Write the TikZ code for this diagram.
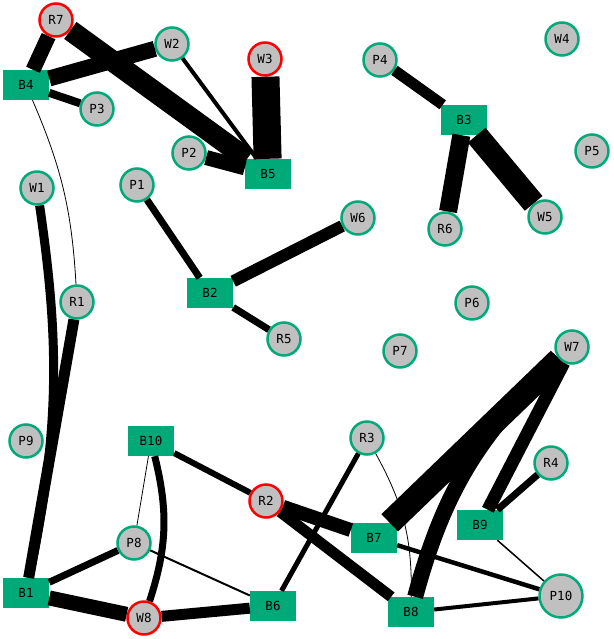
\documentclass[tikz,border=0pt]{standalone}
\usepackage{fontspec}
\setmonofont{DejaVu Sans Mono}
\definecolor{nodegreen}{RGB}{0,170,120}
\definecolor{nodegray}{RGB}{192,192,192}
\begin{document}
\begin{tikzpicture}[x=1pt, y=-1pt,
    every node/.style={font=\ttfamily\fontsize{12.5}{12.5}\selectfont, inner sep=0pt},
    pnode/.style={circle, draw=nodegreen, fill=nodegray, line width=2.5pt, minimum size=33pt},
    rnode/.style={pnode, draw=red},
    bnode/.style={rectangle, fill=nodegreen, minimum width=46pt, minimum height=30pt}]
    \useasboundingbox (0,0) rectangle (613,639);
    % Boxes
    \node[bnode] (B1) at (26,593) {B1};
    \node[bnode] (B2) at (210,293) {B2};
    \node[bnode] (B3) at (464,120) {B3};
    \node[bnode] (B4) at (26,85) {B4};
    \node[bnode] (B5) at (268,174) {B5};
    \node[bnode] (B6) at (273,606) {B6};
    \node[bnode] (B7) at (374,538) {B7};
    \node[bnode] (B8) at (411,612) {B8};
    \node[bnode] (B9) at (480,525) {B9};
    \node[bnode] (B10) at (151,441) {B10};
    
    % Circles
    \node[pnode] (P1) at (137,185) {P1};
    \node[pnode] (P2) at (189,153) {P2};
    \node[pnode] (P3) at (97,109) {P3};
    \node[pnode] (P4) at (380,60) {P4};
    \node[pnode] (P5) at (592,151) {P5};
    \node[pnode] (P6) at (472,303) {P6};
    \node[pnode] (P7) at (400,351) {P7};
    \node[pnode] (P8) at (134,543) {P8};
    \node[pnode] (P9) at (26,441) {P9};
    \node[pnode, minimum size=43pt] (P10) at (561,596) {P10};
    \node[pnode] (R1) at (77,302) {R1};
    \node[rnode] (R2) at (266,501) {R2};
    \node[pnode] (R3) at (367,438) {R3};
    \node[pnode] (R4) at (551,463) {R4};
    \node[pnode] (R5) at (284,339) {R5};
    \node[pnode] (R6) at (445,229) {R6};
    \node[rnode] (R7) at (56,20) {R7};
    \node[pnode] (W1) at (37,188) {W1};
    \node[pnode] (W2) at (172,44) {W2};
    \node[rnode] (W3) at (265,59) {W3};
    \node[pnode] (W4) at (562,39) {W4};
    \node[pnode] (W5) at (545,217) {W5};
    \node[pnode] (W6) at (358,218) {W6};
    \node[pnode] (W7) at (572,347) {W7};
    \node[rnode] (W8) at (144,618) {W8};
    
    % Links, top left
    \draw[line width=15pt] (R7) -- (B4);
    \draw[line width=16pt] (B4) -- (W2);
    \draw[line width=8pt] (B4) -- (P3);
    \draw[line width=21pt] (R7) -- (B5);
    \draw[line width=4pt] (W2) -- (B5);
    \draw[line width=28pt] (W3) -- (B5);
    \draw[line width=15pt] (P2) -- (B5);
    \draw[line width=0.8pt] (B4) to[bend left=10] (R1);
    \draw[line width=9pt] (W1) to[bend left=10] (B1);
    \draw[line width=11pt] (R1) -- (B1);
    
    % Links, middle
    \draw[line width=7pt] (P1) -- (B2);
    \draw[line width=12pt] (B2) -- (W6);
    \draw[line width=7pt] (B2) -- (R5);
    \draw[line width=11pt] (P4) -- (B3);
    \draw[line width=18pt] (B3) -- (R6);
    \draw[line width=23pt] (B3) -- (W5);
    
    % Links, bottom
    \draw[line width=6pt] (B10) -- (R2);
    \draw[line width=0.8pt] (B10) -- (P8);
    \draw[line width=7pt] (B10) to[bend left=16] (W8);
    \draw[line width=7pt] (P8) -- (B1);
    \draw[line width=2pt] (P8) -- (B6);
    \draw[line width=15pt] (B1) -- (W8);
    \draw[line width=11pt] (W8) -- (B6);
    \draw[line width=14pt] (R2) -- (B7);
    \draw[line width=11pt] (R2) -- (B8);
    \draw[line width=5pt] (R3) -- (B6);
    \draw[line width=0.8pt] (R3) to[bend left=15] (B8);
    \draw[line width=24pt] (W7) -- (B7);
    \draw[line width=16pt] (W7) to[bend right=16] (B8);
    \draw[line width=13pt] (W7) -- (B9);
    \draw[line width=7pt] (R4) -- (B9);
    \draw[line width=4.5pt] (B7) -- (P10);
    \draw[line width=1.5pt] (B9) -- (P10);
    \draw[line width=4pt] (B8) -- (P10);
\end{tikzpicture}
\end{document}
